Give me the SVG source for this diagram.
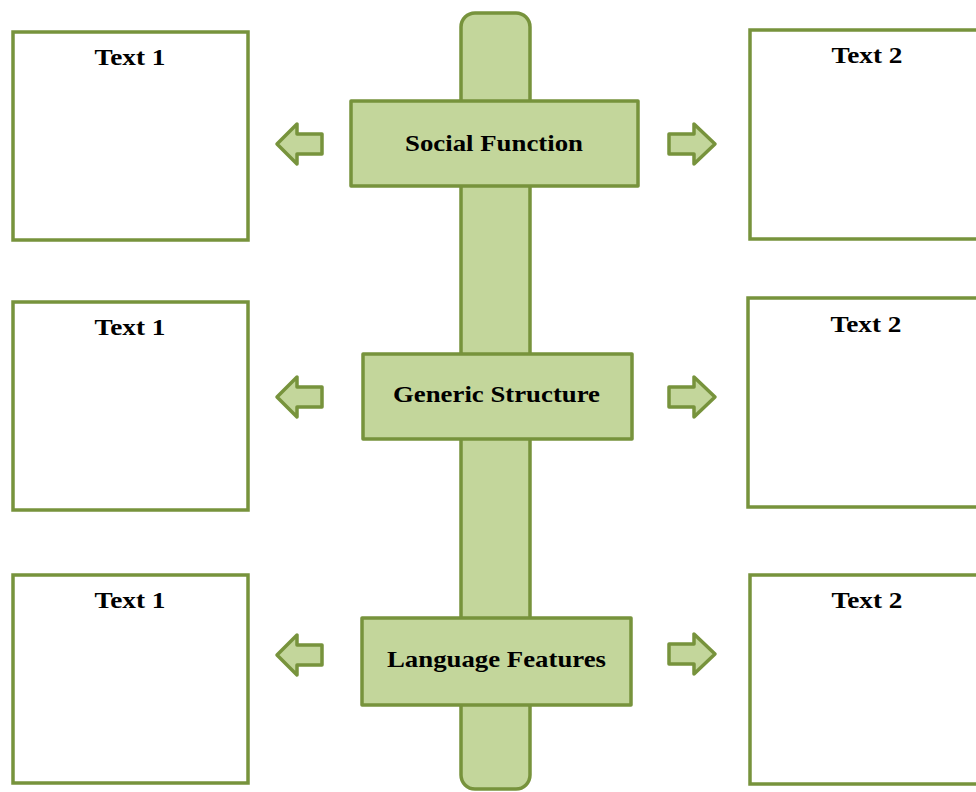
<svg xmlns="http://www.w3.org/2000/svg" width="976" height="792" viewBox="0 0 976 792">
<style>
.box{fill:#fff;stroke:#77933C;stroke-width:3.5;}
.g{fill:#C3D69B;stroke:#77933C;stroke-width:3.5;stroke-linejoin:round;}
.t{font-family:"Liberation Serif","DejaVu Serif",serif;font-weight:bold;font-size:23px;fill:#000;text-anchor:middle;}
</style>
<rect width="976" height="792" fill="#fff"/>
<g id="spine"><rect class="g" x="461" y="13" width="69" height="776" rx="14"/></g>
<g id="left1"><rect class="box" x="13" y="32" width="235" height="208"/><text class="t" x="130" y="65" textLength="71" lengthAdjust="spacingAndGlyphs">Text 1</text></g>
<g id="left2"><rect class="box" x="13" y="302" width="235" height="208"/><text class="t" x="130" y="335" textLength="71" lengthAdjust="spacingAndGlyphs">Text 1</text></g>
<g id="left3"><rect class="box" x="13" y="575" width="235" height="208"/><text class="t" x="130" y="608" textLength="71" lengthAdjust="spacingAndGlyphs">Text 1</text></g>
<g id="right1"><rect class="box" x="750" y="30" width="240" height="209"/><text class="t" x="867" y="63" textLength="71" lengthAdjust="spacingAndGlyphs">Text 2</text></g>
<g id="right2"><rect class="box" x="748" y="298" width="240" height="209"/><text class="t" x="866" y="332" textLength="71" lengthAdjust="spacingAndGlyphs">Text 2</text></g>
<g id="right3"><rect class="box" x="750" y="575" width="240" height="209"/><text class="t" x="867" y="608" textLength="71" lengthAdjust="spacingAndGlyphs">Text 2</text></g>
<g id="social"><rect class="g" x="351" y="101" width="287" height="85"/><text class="t" x="494" y="151" textLength="178" lengthAdjust="spacingAndGlyphs">Social Function</text></g>
<g id="generic"><rect class="g" x="363" y="354" width="269" height="85"/><text class="t" x="496.5" y="402" textLength="207" lengthAdjust="spacingAndGlyphs">Generic Structure</text></g>
<g id="language"><rect class="g" x="362" y="618" width="269" height="87"/><text class="t" x="496.5" y="667" textLength="219" lengthAdjust="spacingAndGlyphs">Language Features</text></g>
<g id="connectors">
<polygon class="g" points="277,144 297,124 297,134 322,134 322,154 297,154 297,164"/>
<polygon class="g" points="715,144 694,124 694,134 669,134 669,154 694,154 694,164"/>
<polygon class="g" points="277,397 297,377 297,387 322,387 322,407 297,407 297,417"/>
<polygon class="g" points="715,397 694,377 694,387 669,387 669,407 694,407 694,417"/>
<polygon class="g" points="277,655 297,635 297,645 322,645 322,665 297,665 297,675"/>
<polygon class="g" points="715,654 694,634 694,644 669,644 669,664 694,664 694,674"/>
</g>
</svg>
